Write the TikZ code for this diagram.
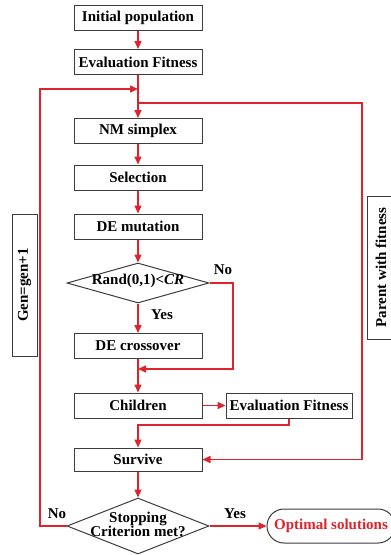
\documentclass[tikz,border=0pt]{standalone}
\usepackage{fontspec}
\setmainfont{Liberation Serif}
\usetikzlibrary{arrows.meta,shapes.geometric}
\definecolor{flow}{RGB}{222,35,45}
\definecolor{edge}{RGB}{60,60,60}
\begin{document}
\begin{tikzpicture}[x=1pt,y=-1pt,
  lbl/.style={font=\fontsize{15}{17}\selectfont\bfseries},
  box/.style={lbl,draw=edge,line width=1pt,fill=white,minimum width=128pt,
    minimum height=25pt,inner sep=0pt},
  dia/.style={draw=edge,line width=1pt,fill=white,shape=diamond,inner sep=0pt},
  side/.style={lbl,draw=edge,line width=1pt,fill=white,rotate=90,inner sep=0pt},
  arr/.style={draw=flow,line width=1.5pt,-{Triangle[length=8pt,width=7pt]}},
  ln/.style={draw=flow,line width=1.5pt}]
\useasboundingbox (0,0) rectangle (391,555);

% main column
\node[box] (init) at (138,18) {Initial population};
\node[box] (eval) at (138,62) {Evaluation Fitness};
\node[box] (nm) at (138,131) {NM simplex};
\node[box] (sel) at (138,177.5) {Selection};
\node[box] (mut) at (138,226.5) {DE mutation};
\node[dia,minimum width=142pt,minimum height=40pt] (rand) at (138,283) {};
\node[lbl] (randtxt) at (138,281) {Rand(0,1)<\textit{CR}};
\node[box] (cross) at (138,346) {DE crossover};
\node[box] (child) at (138,405.5) {Children};
\node[box,minimum width=126pt] (eval2) at (289,405.5) {Evaluation Fitness};
\node[box,minimum height=23pt] (surv) at (138,459.5) {Survive};
\node[dia,minimum width=142pt,minimum height=56pt] (stop) at (138,526) {};
\node[lbl,align=center,font=\fontsize{15}{14}\selectfont\bfseries] (stoptxt) at (138,524) {Stopping\\Criterion met?};
\node[lbl,text=flow,draw=edge,line width=1pt,rounded corners=17pt,
  minimum width=128pt,minimum height=34pt,inner sep=0pt] (opt) at (331,526) {Optimal solutions};

% side notes
\node[side,minimum width=142pt,minimum height=25pt] (gen) at (24.5,285) {Gen=gen+1};
\node[side,minimum width=143pt,minimum height=28pt] (par) at (381,267.5) {Parent with fitness};

% junction points
\coordinate (j1) at (138,89);
\coordinate (j2) at (138,103);
\coordinate (loopTop) at (40,89);
\coordinate (rt) at (362,103);
\coordinate (nob) at (233,369);
\coordinate (j3) at (138,369);
\coordinate (j4) at (289,425);

% connectors
\draw[arr] (init) -- (eval);
\draw[arr] (eval) -- (nm);
\draw[arr] (stop.west) -| (loopTop) -- (j1);
\draw[arr] (j2) -- (rt) |- (surv.east);
\draw[arr] (nm) -- (sel);
\draw[arr] (sel) -- (mut);
\draw[arr] (mut) -- (rand.north);
\draw[arr] (rand.south) -- (cross);
\draw[arr] (rand.east) -| (nob) -- (j3);
\draw[arr] (cross) -- (child);
\draw[arr] (child) -- (eval2);
\draw[arr] (eval2.south) -- (j4) -| (surv.north);
\draw[arr] (surv) -- (stop.north);
\draw[arr] (stop.east) -- (opt.west);

% branch labels
\node[lbl] (no1) at (223,270) {No};
\node[lbl] (yes1) at (162,315) {Yes};
\node[lbl] (no2) at (57,514) {No};
\node[lbl] (yes2) at (235,514) {Yes};
\end{tikzpicture}
\end{document}
